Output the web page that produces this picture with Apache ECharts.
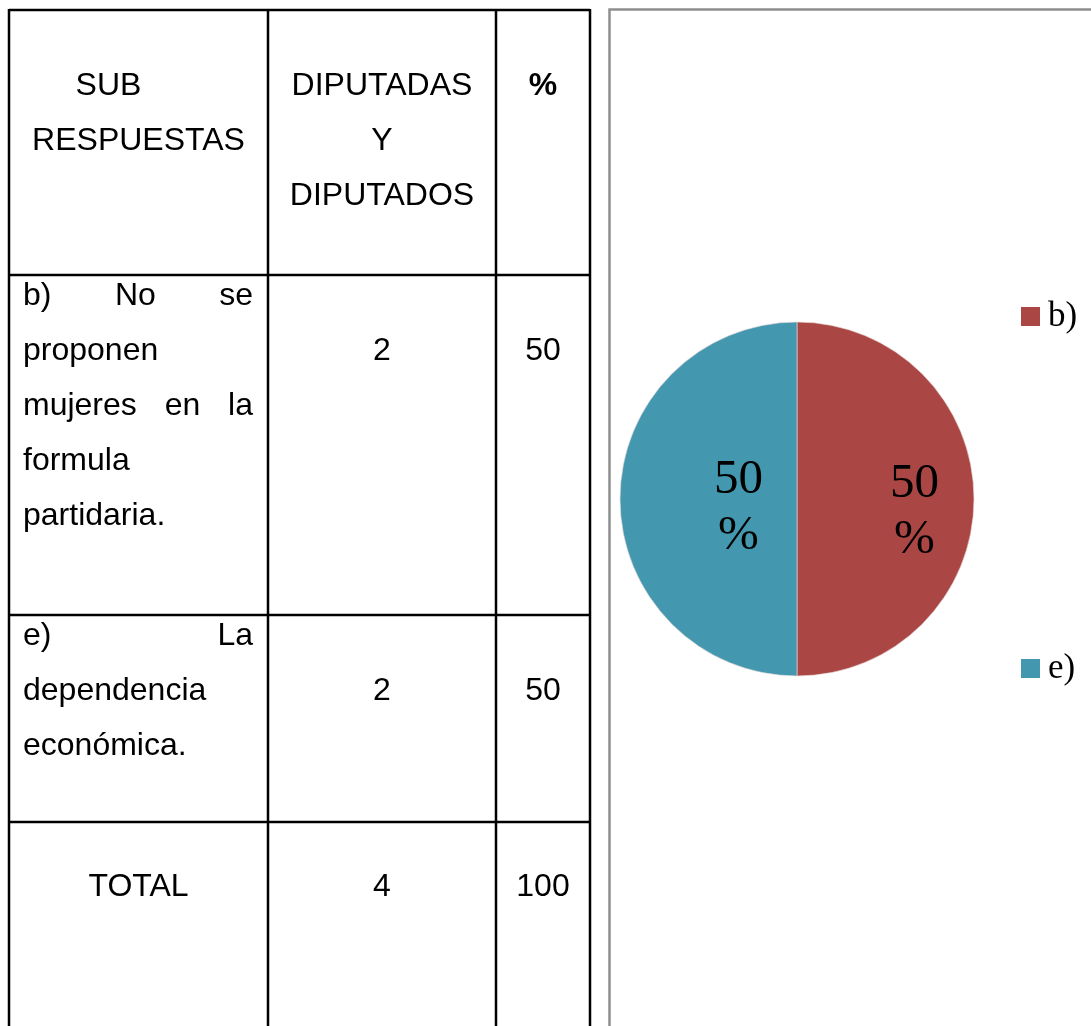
<!DOCTYPE html>
<html>
<head>
<meta charset="utf-8">
<script src="https://cdn.jsdelivr.net/npm/echarts@6/dist/echarts.min.js"></script>
<style>
html,body{margin:0;padding:0;background:#fff;}
#chart{width:1091px;height:1026px;}
</style>
</head>
<body>
<div id="chart"></div>
<script>
// ---- data ----
const categories = ['b)', 'e)'];
const rowLines = [
  ['b) No se', 'proponen', 'mujeres en la', 'formula', 'partidaria.'],
  ['e) La', 'dependencia', 'económica.']
];
const rowJustified = [
  [true, false, true, false, false],
  [true, false, false]
];
const counts = [2, 2];
const percents = [50, 50];
const headerCol1 = ['SUB', 'RESPUESTAS'];
const headerCol2 = ['DIPUTADAS', 'Y', 'DIPUTADOS'];
const headerCol3 = ['%'];
const totalLabel = 'TOTAL';
const totalCount = 4;
const totalPercent = 100;
const colors = ['#AA4744', '#4398AF'];

// ---- layout ----
const FONT = '"Liberation Sans", Arial, sans-serif';
const FS = 32;
const colX = [9, 268, 496, 590];
const rowY = [10, 275, 615, 822, 1040];
const c1 = (colX[0] + colX[1]) / 2, c2 = (colX[1] + colX[2]) / 2, c3 = (colX[2] + colX[3]) / 2;
const padL = 23, padR = 253;
const BASE_OFF = 10; // baseline -> middle
const LH = 55;

const ctx = document.createElement('canvas').getContext('2d');
ctx.font = FS + 'px ' + FONT;

const elements = [];
function txt(s, x, baseline, align, bold) {
  elements.push({
    type: 'text', silent: true, x: x, y: baseline - BASE_OFF,
    style: { text: s, fontSize: FS, fontFamily: FONT, fontWeight: bold ? 'bold' : 'normal',
             fill: '#000', align: align || 'center', verticalAlign: 'middle' }
  });
}
function line(x1, y1, x2, y2, color, w) {
  elements.push({ type: 'line', silent: true, shape: { x1, y1, x2, y2 },
    style: { stroke: color, lineWidth: w } });
}
function justified(s, baseline) {
  const words = s.split(' ');
  const widths = words.map(w => ctx.measureText(w).width);
  const total = widths.reduce((a, b) => a + b, 0);
  const gap = (padR - padL - total) / (words.length - 1);
  let x = padL;
  words.forEach((w, i) => { txt(w, x, baseline, 'left'); x += widths[i] + gap; });
}

// table grid
colX.forEach(x => line(x, rowY[0] - 1, x, 1040, '#000', 2.5));
rowY.slice(0, 4).forEach(y => line(colX[0], y, colX[3], y, '#000', 2.5));

// header
txt(headerCol1[0], 108.5, 96); txt(headerCol1[1], c1, 151);
headerCol2.forEach((s, i) => txt(s, c2, 96 + i * LH));
txt(headerCol3[0], c3, 96, 'center', true);

// rows
const rowStart = [306, 646];
rowLines.forEach((lines, r) => {
  lines.forEach((s, i) => {
    const b = rowStart[r] + i * LH;
    if (rowJustified[r][i]) justified(s, b); else txt(s, padL, b, 'left');
  });
  txt(String(counts[r]), c2, rowStart[r] + LH);
  txt(String(percents[r]), c3, rowStart[r] + LH);
});
// total
txt(totalLabel, c1, 897); txt(String(totalCount), c2, 897); txt(String(totalPercent), c3, 897);

// chart frame
elements.push({ type: 'rect', silent: true, shape: { x: 609.5, y: 9.5, width: 700, height: 1100 },
  style: { fill: 'none', stroke: '#8e8e8e', lineWidth: 2.5 } });

const chart = echarts.init(document.getElementById('chart'));
chart.setOption({
  animation: false,
  backgroundColor: '#fff',
  color: colors,
  graphic: { elements: elements },
  legend: {
    orient: 'vertical', left: 1021, top: 299, padding: 0,
    itemWidth: 19, itemHeight: 19, itemGap: 317, icon: 'rect',
    itemStyle: { borderWidth: 0 },
    data: categories,
    textStyle: { fontFamily: '"Liberation Serif", "Times New Roman", serif', fontSize: 35,
                 lineHeight: 35, color: '#000', padding: [0, 0, 0, 3] }
  },
  series: [{
    type: 'pie',
    center: [797, 499],
    radius: 177,
    startAngle: 90,
    clockwise: true,
    avoidLabelOverlap: false,
    itemStyle: { borderWidth: 0.6, borderColor: '#e8d8d8' },
    label: {
      position: 'inside',
      formatter: p => Math.round(p.percent) + '\n%',
      fontFamily: '"Liberation Serif", "Times New Roman", serif',
      fontSize: 49, lineHeight: 56, color: '#000'
    },
    labelLine: { show: false },
    emphasis: { disabled: true },
    data: categories.map((c, i) => ({
      name: c, value: counts[i],
      label: { offset: i === 0 ? [26, 13] : [33, 9] }
    }))
  }]
});
</script>
</body>
</html>
